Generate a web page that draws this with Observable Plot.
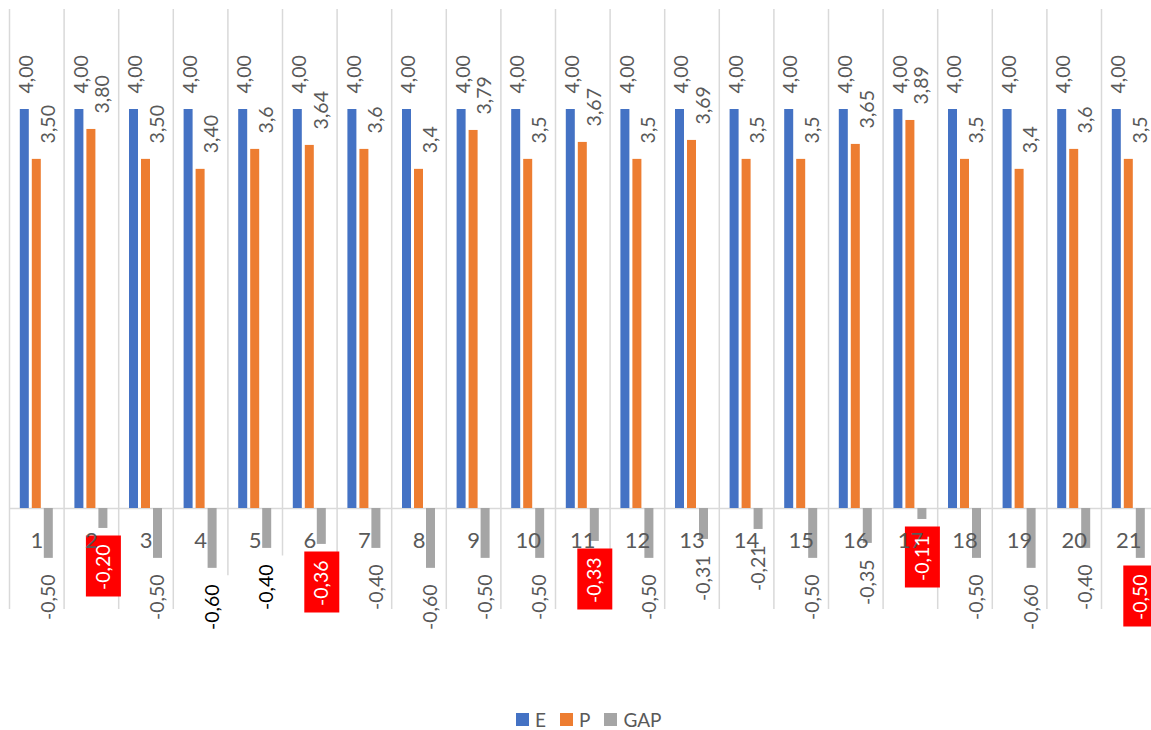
<!DOCTYPE html>
<html><head><meta charset="utf-8">
<script src="https://cdn.jsdelivr.net/npm/d3@7"></script>
<script src="https://cdn.jsdelivr.net/npm/@observablehq/plot@0.6"></script>
<style>
html,body{margin:0;padding:0;background:#fff;overflow:hidden;}
#chart{position:relative;width:1151px;height:730px;overflow:hidden;}
#legend{position:absolute;left:516px;top:710px;height:19px;line-height:19px;display:flex;align-items:center;font-family:Lato,sans-serif;font-size:19px;color:#595959;white-space:nowrap;}
#legend .sw{display:inline-block;width:13px;height:13px;margin-right:6px;}
#legend .it{display:flex;align-items:center;margin-right:14px;}
</style></head><body>
<div id="chart"></div>
<script>
const categories = ["1","2","3","4","5","6","7","8","9","10","11","12","13","14","15","16","17","18","19","20","21"];
const seriesNames = ["E","P","GAP"];
const seriesColors = ["#4472C4","#ED7D31","#A5A5A5"];
const eValues = [4,4,4,4,4,4,4,4,4,4,4,4,4,4,4,4,4,4,4,4,4];
const eLabels = ["4,00","4,00","4,00","4,00","4,00","4,00","4,00","4,00","4,00","4,00","4,00","4,00","4,00","4,00","4,00","4,00","4,00","4,00","4,00","4,00","4,00"];
const pValues = [3.5,3.8,3.5,3.4,3.6,3.64,3.6,3.4,3.79,3.5,3.67,3.5,3.69,3.5,3.5,3.65,3.89,3.5,3.4,3.6,3.5];
const pLabels = ["3,50","3,80","3,50","3,40","3,6","3,64","3,6","3,4","3,79","3,5","3,67","3,5","3,69","3,5","3,5","3,65","3,89","3,5","3,4","3,6","3,5"];
const gapValues = [-0.5,-0.2,-0.5,-0.6,-0.4,-0.36,-0.4,-0.6,-0.5,-0.5,-0.33,-0.5,-0.31,-0.21,-0.5,-0.35,-0.11,-0.5,-0.6,-0.4,-0.5];
const gapLabels = ["-0,50","-0,20","-0,50","-0,60","-0,40","-0,36","-0,40","-0,60","-0,50","-0,50","-0,33","-0,50","-0,31","-0,21","-0,50","-0,35","-0,11","-0,50","-0,60","-0,40","-0,50"];
const redLabelCats = ["2","6","11","17","21"];
const whiteLabelCats = ["4","5"];

const colorOf = Object.fromEntries(seriesNames.map((s,i)=>[s,seriesColors[i]]));
const rows = [];
categories.forEach((c,i)=>{
  rows.push({cat:c, series:"E", value:eValues[i], label:eLabels[i]});
  rows.push({cat:c, series:"P", value:pValues[i], label:pLabels[i]});
  rows.push({cat:c, series:"GAP", value:gapValues[i], label:gapLabels[i]});
});
const eRows = rows.filter(d=>d.series==="E");
const pRows = rows.filter(d=>d.series==="P");
const gRows = rows.filter(d=>d.series==="GAP");
const gRed = gRows.filter(d=>redLabelCats.includes(d.cat));
const gWhite = gRows.filter(d=>whiteLabelCats.includes(d.cat));
const gPlain = gRows.filter(d=>!redLabelCats.includes(d.cat) && !whiteLabelCats.includes(d.cat));

const boxSymbol = {draw(ctx){ ctx.rect(-17.5,-30.5,35,61); }};
const lab = {fontSize:19.5, fontFamily:"Lato", rotate:-90};

const plot = Plot.plot({
  width: 1151, height: 700,
  marginTop: 9.25, marginBottom: 92.25, marginLeft: 9, marginRight: -4.6,
  fx: {domain: categories, padding: 0, round: false, axis: null},
  x: {domain: seriesNames, paddingInner: 0.25, paddingOuter: 0.9, round: false, axis: null},
  y: {domain: [-1, 5], axis: null},
  style: {fontFamily: "Lato", background: "white"},
  marks: [
    Plot.frame({anchor: "left", stroke: "#d9d9d9", strokeWidth: 1.5}),
    Plot.ruleY([0], {stroke: "#d9d9d9", strokeWidth: 1.5}),
    Plot.barY(rows, {fx: "cat", x: "series", y: "value", fill: d=>colorOf[d.series]}),
    Plot.text(eRows, {fx:"cat", x:"series", y:"value", text:"label", textAnchor:"start", dy:-16, dx:2, fill:"#595959", ...lab}),
    Plot.text(pRows, {fx:"cat", x:"series", y:"value", text:"label", textAnchor:"start", dy:-16, dx:11.5, fill:"#595959", ...lab}),
    Plot.dot(gRed, {fx:"cat", x:"series", y:"value", symbol: boxSymbol, fill:"#FF0000", stroke:null, dy:37.5}),
    Plot.dot(gWhite, {fx:"cat", x:"series", y:"value", symbol: boxSymbol, fill:"#FFFFFF", stroke:null, dy:37.5}),
    Plot.text(categories, {fx: d=>d, y: 0, text: d=>d, dy: 32, fontSize: 22, fill: "#595959"}),
    Plot.text(gPlain, {fx:"cat", x:"series", y:"value", text:"label", textAnchor:"end", dy:16, fill:"#595959", ...lab}),
    Plot.text(gWhite, {fx:"cat", x:"series", y:"value", text:"label", textAnchor:"end", dy:16, fill:"#000000", ...lab}),
    Plot.text(gRed, {fx:"cat", x:"series", y:"value", text:"label", textAnchor:"end", dy:16, fill:"#FFFFFF", ...lab})
  ]
});
const chart = document.getElementById("chart");
chart.appendChild(plot);
const legend = document.createElement("div");
legend.id = "legend";
seriesNames.forEach((s,i)=>{
  const it = document.createElement("span"); it.className = "it";
  const sw = document.createElement("span"); sw.className = "sw"; sw.style.background = seriesColors[i];
  it.appendChild(sw); it.appendChild(document.createTextNode(s));
  legend.appendChild(it);
});
chart.appendChild(legend);
</script>
</body></html>
